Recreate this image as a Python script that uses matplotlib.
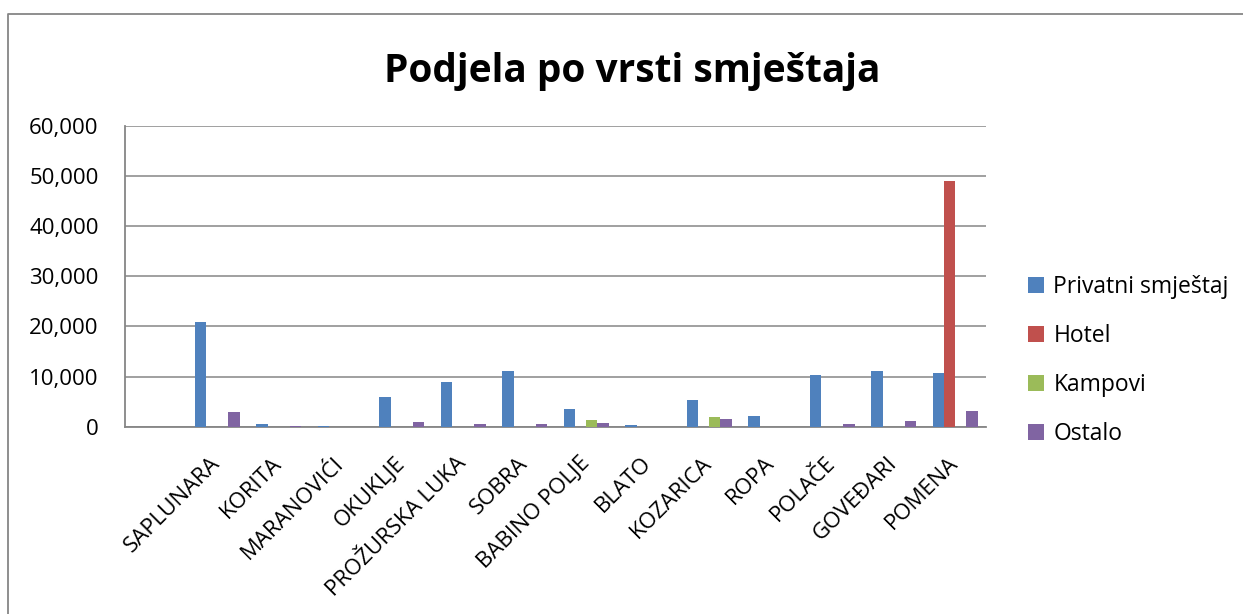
import matplotlib.pyplot as plt
from matplotlib.lines import Line2D
from matplotlib.ticker import FuncFormatter
import numpy as np

plt.rcParams['font.family'] = ['Open Sans', 'DejaVu Sans']

# first category is empty in the source sheet
mjesta = ['', 'SAPLUNARA', 'KORITA', 'MARANOVIĆI', 'OKUKLJE', 'PROŽURSKA LUKA', 'SOBRA',
          'BABINO POLJE', 'BLATO', 'KOZARICA', 'ROPA', 'POLAČE', 'GOVEĐARI', 'POMENA']
privatni = [0, 20800, 500, 100, 6000, 9000, 11050, 3500, 250, 5250, 2200, 10350, 11050, 10750]
hotel = [0, 0, 0, 0, 0, 0, 0, 0, 0, 0, 0, 0, 0, 48900]
kampovi = [0, 0, 0, 0, 0, 0, 0, 1400, 0, 1850, 0, 0, 0, 0]
ostalo = [0, 2900, 80, 0, 900, 450, 500, 800, 0, 1500, 0, 500, 1200, 3100]
serije = ['Privatni smještaj', 'Hotel', 'Kampovi', 'Ostalo']
boje = ['#4F81BD', '#C0504D', '#9BBB59', '#8064A2']

fig = plt.figure(figsize=(12.43, 6.14), dpi=100)
ax = fig.add_axes([0.1006, 0.305, 0.6926, 0.4906])

x = np.arange(len(mjesta))
w = 1 / 5.5
for i, (vals, naziv) in enumerate(zip([privatni, hotel, kampovi, ostalo], serije)):
    ax.bar(x + (i - 1.5) * w, vals, w, color=boje[i], label=naziv, zorder=3)

ax.set_xlim(-0.5, len(mjesta) - 0.5)
ax.set_ylim(0, 60000)
ax.set_yticks(range(0, 60001, 10000))
ax.yaxis.set_major_formatter(FuncFormatter(lambda v, p: f'{int(v):,}'))
ax.grid(axis='y', color='#868686', lw=1.1, zorder=0)
for s in ['top', 'right']:
    ax.spines[s].set_visible(False)
for s in ['left', 'bottom']:
    ax.spines[s].set_color('#868686')
    ax.spines[s].set_linewidth(1.3)
ax.tick_params(axis='both', length=0, labelsize=16)
ax.tick_params(axis='y', pad=19)

ax.set_xticks(x)
ax.set_xticklabels(mjesta, rotation=45, ha='right', va='center', rotation_mode='anchor', fontsize=16)
ax.tick_params(axis='x', pad=24)

fig.text(0.509, 0.867, 'Podjela po vrsti smještaja', ha='center', va='baseline',
         fontsize=28, fontweight='bold')

ax.legend(loc='center left', bbox_to_anchor=(1.025, 0.22), frameon=False, fontsize=16.5,
          handlelength=0.7, handleheight=0.7, handletextpad=0.4, labelspacing=1.08)

# chart border (only top and left visible in the crop)
fig.add_artist(Line2D([8 / 1243, 8 / 1243, 1.0], [0.0, 1 - 14 / 614, 1 - 14 / 614],
                      transform=fig.transFigure, color='#868686', lw=1.3))

fig.savefig('out.png', dpi=100)
